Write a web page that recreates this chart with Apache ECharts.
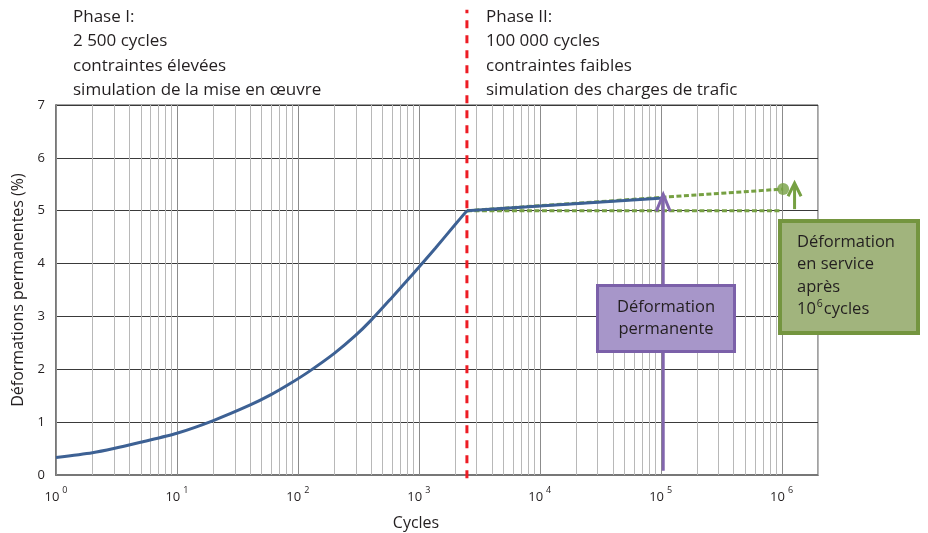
<!DOCTYPE html>
<html><head><meta charset="utf-8">
<script src="https://cdn.jsdelivr.net/npm/echarts@6/dist/echarts.min.js"></script>
<style>html,body{margin:0;padding:0;background:#fff}#c{width:928px;height:533px}</style>
</head><body><div id="c"></div>
<script>
// Phase I curve (cycles, permanent deformation %)
const phase1Cycles = [1, 2, 3, 5, 10, 20, 40, 60, 85, 126, 200, 300, 400, 600, 800, 1000, 1370, 2000, 2500];
const phase1Values = [0.33, 0.42, 0.50, 0.62, 0.79, 1.03, 1.32, 1.52, 1.72, 1.97, 2.30, 2.64, 2.92, 3.36, 3.68, 3.93, 4.29, 4.74, 5.0];
// Phase II measured curve
const phase2Cycles = [2500, 105000];
const phase2Values = [5.0, 5.24];
// Extrapolated in-service deformation (green dashed)
const serviceCycles = [2500, 1030000];
const serviceValues = [5.0, 5.41];
const baseCycles = [2500, 1000000];
const baseValues = [5.0, 5.0];
// Phase boundary
const phaseBoundary = 2500;
// Arrows: [cycles, from, to]
const permArrow = [105000, 0.08, 5.31];
const serviceArrow = [1280000, 5.03, 5.52];
// Axis ticks
const yTicks = [0, 1, 2, 3, 4, 5, 6, 7];
const xDecades = [0, 1, 2, 3, 4, 5, 6];

const FONT = '"Open Sans", "DejaVu Sans", sans-serif';
const TXT = '#231f20';
const GREEN = '#76a042';

const gridCycles = [];
xDecades.forEach(k => {
  for (let m = 1; m <= 9; m++) {
    const v = m * Math.pow(10, k);
    if (v <= 2000000) gridCycles.push([v, m === 1 ? 1 : 0]);
  }
});

const chart = echarts.init(document.getElementById('c'), null, {renderer: 'canvas'});

function vGrid(params, api) {
  const v = api.value(0);
  const p0 = api.coord([v, 0]);
  const p1 = api.coord([v, 7]);
  const x = Math.round(p0[0]) + 0.5;
  return {type: 'line', shape: {x1: x, y1: p0[1], x2: x, y2: p1[1]},
    style: {stroke: api.value(1) ? '#8c8c8c' : '#b8b8b8', lineWidth: 1}};
}
function redLine(params, api) {
  const v = api.value(0);
  const p0 = api.coord([v, -0.06]);
  const p1 = api.coord([v, 8.8]);
  return {type: 'line', shape: {x1: p0[0], y1: p0[1], x2: p1[0], y2: p1[1]},
    style: {stroke: '#ed1c24', lineWidth: 3, lineDash: [8, 7]}};
}
function arrow(color, hw, hh) {
  return function (params, api) {
    const p0 = api.coord([api.value(0), api.value(1)]);
    const p1 = api.coord([api.value(0), api.value(2)]);
    return {type: 'group', children: [
      {type: 'line', shape: {x1: p0[0], y1: p0[1], x2: p1[0], y2: p1[1] + 1}, style: {stroke: color, lineWidth: 3}},
      {type: 'polyline', shape: {points: [[p1[0] - hw, p1[1] + hh], [p1[0], p1[1]], [p1[0] + hw, p1[1] + hh]]},
        style: {stroke: color, lineWidth: 3, fill: null, lineJoin: 'miter'}}
    ]};
  };
}
const zip = (a, b) => a.map((v, i) => [v, b[i]]);

chart.setOption({
  animation: false,
  grid: {left: 56, right: 110, top: 105, bottom: 58, show: true, borderColor: '#444', borderWidth: 1,
    outerBoundsMode: 'none', containLabel: false},
  xAxis: {
    type: 'log', logBase: 10, min: 1, max: 2000000,
    name: 'Cycles', nameLocation: 'middle', nameGap: 40,
    nameTextStyle: {fontFamily: FONT, fontSize: 16, color: TXT, padding: [0, 42, 0, 0]},
    axisLine: {show: true, lineStyle: {color: '#777', width: 2}},
    axisTick: {show: false},
    splitLine: {show: false},
    axisLabel: {
      margin: 11,
      formatter: function (v) {
        const k = Math.round(Math.log10(v));
        if (Math.abs(v - Math.pow(10, k)) > 1e-6 * v) return '';
        return '{b|10}{s|' + k + '}';
      },
      rich: {
        b: {fontFamily: FONT, fontSize: 13, color: TXT, lineHeight: 18, verticalAlign: 'bottom'},
        s: {fontFamily: FONT, fontSize: 9, color: TXT, lineHeight: 18, verticalAlign: 'top', padding: [0, 0, 0, 3]}
      }
    }
  },
  yAxis: {
    type: 'value', min: 0, max: 7, interval: 1,
    name: 'Déformations permanentes (%)', nameLocation: 'middle', nameGap: 26,
    nameTextStyle: {fontFamily: FONT, fontSize: 16, color: TXT},
    axisLine: {show: true, lineStyle: {color: '#777', width: 2}},
    axisTick: {show: false},
    axisLabel: {fontFamily: FONT, fontSize: 13, color: TXT, margin: 11},
    splitLine: {show: true, lineStyle: {color: '#3a3a3a', width: 1}}
  },
  series: [
    {type: 'custom', data: gridCycles, renderItem: vGrid, silent: true, z: 1},
    {type: 'line', data: zip(serviceCycles, serviceValues), symbol: 'none', z: 3,
      lineStyle: {color: GREEN, width: 3, type: [5, 2.5]}},
    {type: 'line', data: zip(baseCycles, baseValues), symbol: 'none', z: 3,
      lineStyle: {color: GREEN, width: 3, type: [5, 2.5]}},
    {type: 'line', data: zip(phase1Cycles, phase1Values), symbol: 'none', smooth: 0.25, z: 4,
      lineStyle: {color: '#3d6194', width: 3}},
    {type: 'line', data: zip(phase2Cycles, phase2Values), symbol: 'none', z: 4,
      lineStyle: {color: '#3d6194', width: 3}},
    {type: 'scatter', data: [[serviceCycles[1], serviceValues[1]]], symbolSize: 12, z: 5,
      itemStyle: {color: GREEN}},
    {type: 'custom', data: [[phaseBoundary]], renderItem: redLine, silent: true, z: 6, clip: false},
    {type: 'custom', data: [permArrow], renderItem: arrow('#8266ad', 7, 17), silent: true, z: 6, clip: false},
    {type: 'custom', data: [serviceArrow], renderItem: arrow(GREEN, 6.5, 13), silent: true, z: 6, clip: false}
  ],
  graphic: [
    {type: 'text', left: 73, top: 5, z: 100, style: {
      text: 'Phase I:\n2 500 cycles\ncontraintes élevées\nsimulation de la mise en œuvre',
      font: '17px ' + FONT, fill: TXT, lineHeight: 24.3}},
    {type: 'text', left: 486, top: 5, z: 100, style: {
      text: 'Phase II:\n100 000 cycles\ncontraintes faibles\nsimulation des charges de trafic',
      font: '17px ' + FONT, fill: TXT, lineHeight: 24.3}},
    {type: 'group', left: 596, top: 284, z: 100, children: [
      {type: 'rect', shape: {x: 0, y: 0, width: 137, height: 66}, z: 100,
        style: {fill: '#a796c9', stroke: '#7b60a9', lineWidth: 3}},
      {type: 'text', x: 68.5, y: 33, z: 101, style: {text: 'Déformation\npermanente', align: 'center', verticalAlign: 'middle',
        font: '16.5px ' + FONT, fill: TXT, lineHeight: 22}}
    ]},
    {type: 'group', left: 778, top: 219, z: 100, children: [
      {type: 'rect', shape: {x: 0, y: 0, width: 138, height: 112}, z: 100,
        style: {fill: '#a1b47d', stroke: '#74953f', lineWidth: 4}},
      {type: 'text', x: 17, y: 10, z: 101, style: {
        text: '{t|Déformation}\n{t|en service}\n{t|après}\n{t|10}{s|6}{t|cycles}',
        rich: {t: {font: '16.5px ' + FONT, fill: TXT, lineHeight: 22.5},
               s: {font: '10.5px ' + FONT, fill: TXT, lineHeight: 22.5, verticalAlign: 'top', padding: [0, 1, 0, 1]}},
        fill: TXT}}
    ]}
  ]
});
</script></body></html>
